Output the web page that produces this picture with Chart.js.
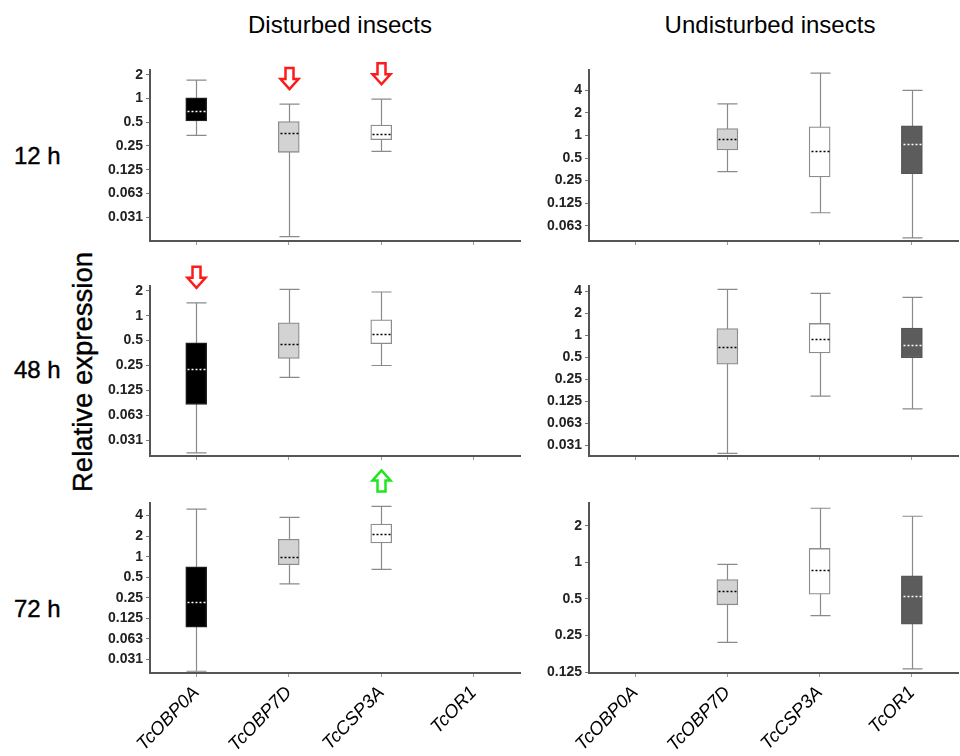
<!DOCTYPE html>
<html>
<head>
<meta charset="utf-8">
<script src="https://cdn.jsdelivr.net/npm/chart.js@4.4.1/dist/chart.umd.min.js"></script>
<style>
  body { margin: 0; background: #fff; }
  #wrap { position: relative; width: 960px; height: 756px; overflow: hidden;
          font-family: "Liberation Sans", Arial, sans-serif; color: #000; }
  .panel { position: absolute; }
  .title { position: absolute; top: 13px; font-size: 24px; line-height: 24px;
           white-space: nowrap; transform: translateX(-50%); }
  .row { position: absolute; left: 14px; font-size: 24px; line-height: 24px;
         -webkit-text-stroke: 0.4px #000; }
  #ylab { position: absolute; left: 83px; top: 372px; font-size: 27.5px; line-height: 27.5px;
          white-space: nowrap; transform: translate(-50%, -50%) rotate(-90deg);
          -webkit-text-stroke: 0.4px #000; }
</style>
</head>
<body>
<div id="wrap">
  <div class="title" style="left:340px">Disturbed insects</div>
  <div class="title" style="left:770px">Undisturbed insects</div>
  <div class="row" style="top:144px">12 h</div>
  <div class="row" style="top:358px">48 h</div>
  <div class="row" style="top:597px">72 h</div>
  <div id="ylab">Relative expression</div>
</div>
<script>
const genes = ['TcOBP0A', 'TcOBP7D', 'TcCSP3A', 'TcOR1'];

// five-number summaries per gene: [min, q1, median, q3, max]
const disturbed12h = [[0.34, 0.52, 0.70, 1.02, 1.71], [0.0177, 0.208, 0.365, 0.51, 0.85], [0.214, 0.30, 0.36, 0.46, 0.98], null];
const undisturbed12h = [null, [0.33, 0.64, 0.91, 1.24, 2.65], [0.093, 0.28, 0.62, 1.31, 6.8], [0.043, 0.31, 0.78, 1.35, 4.02]];
const disturbed48h = [[0.022, 0.085, 0.227, 0.47, 1.43], [0.18, 0.305, 0.45, 0.82, 2.08], [0.25, 0.458, 0.605, 0.89, 1.93], null];
const undisturbed48h = [null, [0.024, 0.40, 0.69, 1.23, 4.25], [0.146, 0.57, 0.90, 1.45, 3.74], [0.098, 0.49, 0.74, 1.25, 3.29]];
const disturbed72h = [[0.021, 0.093, 0.22, 0.71, 4.97], [0.40, 0.76, 0.99, 1.80, 3.75], [0.65, 1.59, 2.13, 2.99, 5.43], null];
const undisturbed72h = [null, [0.22, 0.447, 0.58, 0.72, 0.96], [0.365, 0.547, 0.87, 1.30, 2.78], [0.133, 0.31, 0.53, 0.775, 2.39]];

// significance arrows (disturbed only)
const arrows12h = [null, 'down', 'down', null];
const arrows48h = ['down', null, null, null];
const arrows72h = [null, null, 'up', null];

// y tick values (log2 steps) and their printed labels
const ticks2to031 = [2, 1, 0.5, 0.25, 0.125, 0.0625, 0.03125];
const ticks4to063 = [4, 2, 1, 0.5, 0.25, 0.125, 0.0625];
const ticks4to031 = [4, 2, 1, 0.5, 0.25, 0.125, 0.0625, 0.03125];
const ticks2to125 = [2, 1, 0.5, 0.25, 0.125];
const tickText = { 4: '4', 2: '2', 1: '1', 0.5: '0.5', 0.25: '0.25', 0.125: '0.125', 0.0625: '0.063', 0.03125: '0.031' };

// axis ranges [min, max]
const range12h = [[0.0156, 2.3], [0.039, 7.5]];
const range48h = [[0.0202, 2.28], [0.0221, 4.72]];
const range72h = [[0.0198, 6.1], [0.123, 3.07]];

const boxFill = ['#000000', '#d3d3d3', '#ffffff', '#5c5c5c'];
const boxEdge = ['#222222', '#8c8c8c', '#8c8c8c', '#555555'];
const medianColor = ['#ffffff', '#000000', '#000000', '#ffffff'];

const FONT = '"Liberation Sans", Arial, sans-serif';
Chart.defaults.font.family = FONT;

const rows = [{ top: 70, bottom: 241 }, { top: 286, bottom: 456 }, { top: 503, bottom: 673 }];
const cols = [{ left: 150, right: 520 }, { left: 589, right: 958 }];
const PAD_TOP = 40;
const Y_W = 60;

const boxPlugin = {
    id: 'boxWhiskers',
    beforeDatasetsDraw(chart, args, opts) {
        const { ctx, scales: { x, y } } = chart;
        ctx.save();
        ctx.strokeStyle = '#8a8a8a';
        ctx.lineWidth = 1.2;
        opts.boxes.forEach((b, i) => {
            if (!b) return;
            const cx = Math.round(x.getPixelForValue(i)) + 0.5;
            const lo = y.getPixelForValue(b[0]);
            const hi = y.getPixelForValue(b[4]);
            ctx.beginPath();
            ctx.moveTo(cx, lo); ctx.lineTo(cx, hi);
            ctx.moveTo(cx - 10, lo); ctx.lineTo(cx + 10, lo);
            ctx.moveTo(cx - 10, hi); ctx.lineTo(cx + 10, hi);
            ctx.stroke();
        });
        ctx.restore();
    },
    afterDatasetsDraw(chart, args, opts) {
        const { ctx, scales: { x, y } } = chart;
        ctx.save();
        // dotted medians
        ctx.setLineDash([2, 2]);
        ctx.lineWidth = 1.5;
        opts.boxes.forEach((b, i) => {
            if (!b) return;
            const cx = Math.round(x.getPixelForValue(i)) + 0.5;
            const ym = Math.round(y.getPixelForValue(b[2])) + 0.5;
            ctx.strokeStyle = medianColor[i];
            ctx.beginPath();
            ctx.moveTo(cx - 9, ym); ctx.lineTo(cx + 9, ym);
            ctx.stroke();
        });
        ctx.setLineDash([]);
        // hollow arrows above the upper whisker
        (opts.arrows || []).forEach((dir, i) => {
            if (!dir || !opts.boxes[i]) return;
            const cx = Math.round(x.getPixelForValue(i)) + 0.5;
            const base = y.getPixelForValue(opts.boxes[i][4]) - 15;
            const h = 21, hh = 10, hw = 9, sw = 4;
            ctx.beginPath();
            if (dir === 'down') {
                ctx.moveTo(cx - sw, base - h); ctx.lineTo(cx + sw, base - h);
                ctx.lineTo(cx + sw, base - hh); ctx.lineTo(cx + hw, base - hh);
                ctx.lineTo(cx, base); ctx.lineTo(cx - hw, base - hh);
                ctx.lineTo(cx - sw, base - hh);
                ctx.strokeStyle = '#ff1a1a';
            } else {
                ctx.moveTo(cx - sw, base); ctx.lineTo(cx + sw, base);
                ctx.lineTo(cx + sw, base - h + hh); ctx.lineTo(cx + hw, base - h + hh);
                ctx.lineTo(cx, base - h); ctx.lineTo(cx - hw, base - h + hh);
                ctx.lineTo(cx - sw, base - h + hh);
                ctx.strokeStyle = '#1ee61e';
            }
            ctx.closePath();
            ctx.fillStyle = '#fff';
            ctx.fill();
            ctx.lineWidth = 2.5;
            ctx.lineJoin = 'miter';
            ctx.stroke();
        });
        ctx.restore();
    }
};

function makePanel(col, row, boxes, range, tickValues, arrows) {
    const wrap = document.getElementById('wrap');
    const r = rows[row];
    const k = cols[col];
    const last = row === 2;
    const xh = last ? 83 : 14;
    const w = Y_W + (k.right - k.left) + 2;
    const h = PAD_TOP + (r.bottom - r.top) + xh;
    const canvas = document.createElement('canvas');
    canvas.className = 'panel';
    canvas.width = w;
    canvas.height = h;
    canvas.style.left = (k.left - Y_W) + 'px';
    canvas.style.top = (r.top - PAD_TOP) + 'px';
    canvas.style.width = w + 'px';
    canvas.style.height = h + 'px';
    wrap.appendChild(canvas);

    return new Chart(canvas, {
        type: 'bar',
        data: {
            labels: genes,
            datasets: [{
                data: boxes.map(b => b ? [b[1], b[3]] : null),
                backgroundColor: boxFill,
                borderColor: boxEdge,
                borderWidth: 1.3,
                borderSkipped: false,
                barThickness: 21
            }]
        },
        options: {
            responsive: false,
            animation: false,
            devicePixelRatio: 1,
            layout: { padding: { top: PAD_TOP, right: 2, bottom: 0, left: 0 } },
            plugins: {
                legend: { display: false },
                tooltip: { enabled: false },
                boxWhiskers: { boxes: boxes, arrows: arrows }
            },
            scales: {
                x: {
                    grid: { drawOnChartArea: false, offset: false, tickLength: 4, color: '#999' },
                    border: { color: '#555', width: 2 },
                    ticks: {
                        display: last,
                        autoSkip: false,
                        maxRotation: 46,
                        minRotation: 46,
                        padding: 5,
                        color: '#000',
                        font: { size: 18.5, style: 'italic' }
                    },
                    afterFit: s => { s.height = xh; }
                },
                y: {
                    type: 'logarithmic',
                    min: range[0],
                    max: range[1],
                    afterBuildTicks: s => { s.ticks = tickValues.map(v => ({ value: v })); },
                    ticks: {
                        autoSkip: false,
                        padding: 3,
                        color: '#222',
                        font: { size: 14, weight: 'bold' },
                        callback: v => tickText[v]
                    },
                    grid: { drawOnChartArea: false, tickLength: 4, color: '#777' },
                    border: { color: '#555', width: 2 },
                    afterFit: s => { s.width = Y_W; }
                }
            }
        },
        plugins: [boxPlugin]
    });
}

makePanel(0, 0, disturbed12h, range12h[0], ticks2to031, arrows12h);
makePanel(1, 0, undisturbed12h, range12h[1], ticks4to063, null);
makePanel(0, 1, disturbed48h, range48h[0], ticks2to031, arrows48h);
makePanel(1, 1, undisturbed48h, range48h[1], ticks4to031, null);
makePanel(0, 2, disturbed72h, range72h[0], ticks4to031, arrows72h);
makePanel(1, 2, undisturbed72h, range72h[1], ticks2to125, null);
</script>
</body>
</html>
